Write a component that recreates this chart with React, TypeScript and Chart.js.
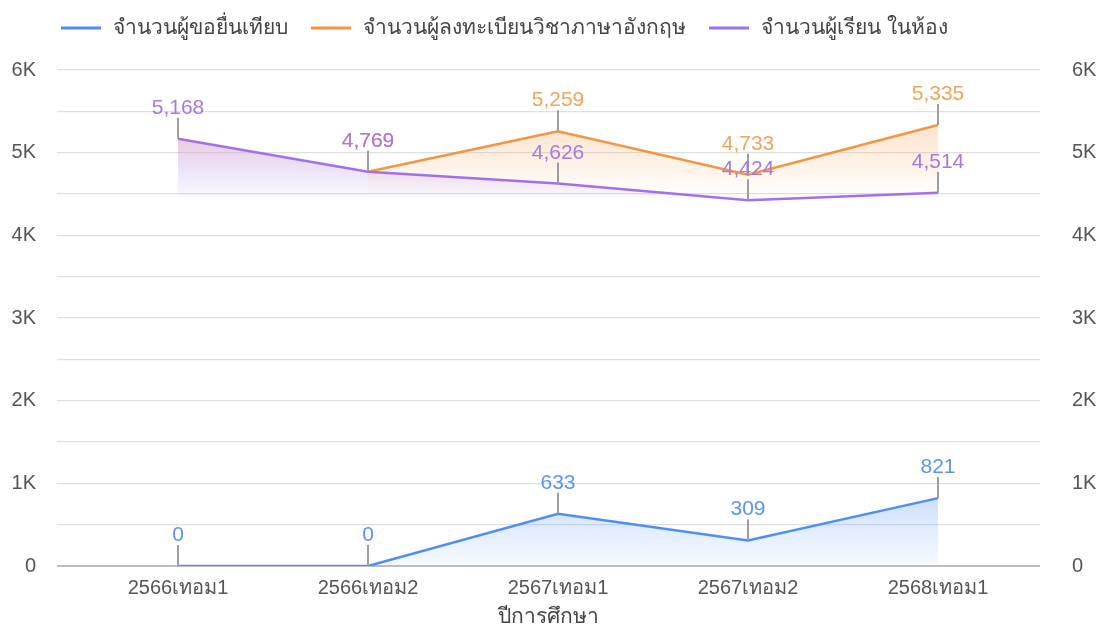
import React, { useEffect, useRef } from "react";
import { Chart, registerables } from "chart.js";

Chart.register(...registerables);

const categories = ["2566เทอม1", "2566เทอม2", "2567เทอม1", "2567เทอม2", "2568เทอม1"];
const seriesNames = ["จำนวนผู้ขอยื่นเทียบ", "จำนวนผู้ลงทะเบียนวิชาภาษาอังกฤษ", "จำนวนผู้เรียน ในห้อง"];
const applicants: (number | null)[] = [0, 0, 633, 309, 821];
const registered: (number | null)[] = [null, 4769, 5259, 4733, 5335];
const inClass: (number | null)[] = [5168, 4769, 4626, 4424, 4514];
const yTickLabels: Record<number, string> = { 0: "0", 1000: "1K", 2000: "2K", 3000: "3K", 4000: "4K", 5000: "5K", 6000: "6K" };
const xTitle = "ปีการศึกษา";

const FONT = "'Liberation Sans', Arial, 'Noto Sans', sans-serif";
const lineColors = ["#4d8ef7", "#f6953f", "#a270ee"];
const labelColors = ["#5a96f7", "#f5a35a", "#a878e6"];

const toPoints = (arr: (number | null)[]) => arr.map((v, i) => ({ x: i, y: v }));

function makeGradient(chart: any, topVal: number, bottomVal: number, stops: [number, string][]) {
  const { ctx, chartArea, scales } = chart;
  if (!chartArea) return "rgba(0,0,0,0)";
  const t = scales.y.getPixelForValue(topVal);
  const b = scales.y.getPixelForValue(bottomVal);
  const g = ctx.createLinearGradient(0, t, 0, b);
  stops.forEach(([o, c]) => g.addColorStop(o, c));
  return g;
}

const legendPlugin = {
  id: "customLegend",
  afterDraw(chart: any) {
    const ctx = chart.ctx;
    ctx.save();
    ctx.font = `21px ${FONT}`;
    ctx.textBaseline = "middle";
    ctx.textAlign = "left";
    let x = 61;
    const y = 28;
    seriesNames.forEach((name, i) => {
      ctx.strokeStyle = lineColors[i];
      ctx.lineWidth = 3;
      ctx.beginPath();
      ctx.moveTo(x, y);
      ctx.lineTo(x + 40, y);
      ctx.stroke();
      ctx.fillStyle = "#444444";
      ctx.fillText(name, x + 52, y);
      x = x + 52 + ctx.measureText(name).width + 23;
    });
    ctx.restore();
  },
};

const labelPlugin = {
  id: "pointLabels",
  afterDatasetsDraw(chart: any) {
    const ctx = chart.ctx;
    ctx.save();
    chart.data.datasets.forEach((ds: any, di: number) => {
      const meta = chart.getDatasetMeta(di);
      meta.data.forEach((pt: any, i: number) => {
        const v = ds.data[i].y;
        if (v === null || v === undefined) return;
        const x = pt.x;
        const y = pt.y;
        ctx.strokeStyle = "#9e9e9e";
        ctx.lineWidth = 2;
        ctx.beginPath();
        ctx.moveTo(x, y);
        ctx.lineTo(x, y - 21);
        ctx.stroke();
        ctx.font = `21px ${FONT}`;
        ctx.fillStyle = labelColors[di];
        ctx.textAlign = "center";
        ctx.textBaseline = "alphabetic";
        ctx.fillText(v.toLocaleString("en-US"), x, y - 25);
      });
    });
    ctx.restore();
  },
};

export default function App() {
  const ref = useRef<HTMLCanvasElement | null>(null);

  useEffect(() => {
    if (!ref.current) return;
    const yTicks = {
      stepSize: 500,
      color: "#555555",
      font: { size: 20, family: FONT },
      callback: (v: any) => (yTickLabels[v] !== undefined ? yTickLabels[v] : ""),
    };
    const chart = new Chart(ref.current, {
      type: "line",
      data: {
        datasets: [
          {
            label: seriesNames[0],
            data: toPoints(applicants),
            borderColor: lineColors[0],
            borderWidth: 2.5,
            pointRadius: 0,
            tension: 0,
            fill: "origin",
            backgroundColor: (c: any) =>
              makeGradient(c.chart, 900, 0, [
                [0, "rgba(77,142,247,0.3)"],
                [1, "rgba(77,142,247,0.04)"],
              ]),
            order: 3,
          },
          {
            label: seriesNames[1],
            data: toPoints(registered),
            borderColor: lineColors[1],
            borderWidth: 2.5,
            pointRadius: 0,
            tension: 0,
            fill: { value: 4450 },
            backgroundColor: (c: any) =>
              makeGradient(c.chart, 5400, 4450, [
                [0, "rgba(246,149,63,0.28)"],
                [1, "rgba(246,149,63,0.0)"],
              ]),
            order: 2,
          },
          {
            label: seriesNames[2],
            data: toPoints(inClass),
            borderColor: lineColors[2],
            borderWidth: 2.5,
            pointRadius: 0,
            tension: 0,
            fill: { value: 4450 },
            backgroundColor: (c: any) =>
              makeGradient(c.chart, 5200, 4450, [
                [0, "rgba(220,150,175,0.5)"],
                [0.55, "rgba(190,155,235,0.28)"],
                [1, "rgba(190,160,235,0.05)"],
              ]),
            order: 1,
          },
        ],
      },
      options: {
        responsive: false,
        animation: false,
        layout: { padding: { top: 70, left: 0, right: 0, bottom: 0 } },
        plugins: { legend: { display: false }, tooltip: { enabled: false } },
        scales: {
          x: {
            type: "linear",
            min: -0.637,
            max: 4.537,
            afterBuildTicks: (s: any) => {
              s.ticks = categories.map((_, i) => ({ value: i }));
            },
            afterFit: (s: any) => {
              s.height = 64;
            },
            grid: { display: false, drawTicks: false },
            border: { display: false },
            ticks: {
              padding: 10,
              color: "#555555",
              font: { size: 20, family: FONT },
              autoSkip: false,
              maxRotation: 0,
              callback: (v: any) => categories[v] ?? "",
            },
            title: {
              display: true,
              text: xTitle,
              color: "#444444",
              font: { size: 21, family: FONT },
              padding: { top: 0, bottom: 0 },
            },
          },
          y: {
            position: "left",
            min: 0,
            max: 6000,
            afterFit: (s: any) => {
              s.width = 57;
            },
            border: { display: false },
            grid: {
              drawTicks: false,
              color: (c: any) => (c.tick && c.tick.value === 0 ? "#bdbdbd" : "#e0e0e0"),
              lineWidth: (c: any) => (c.tick && c.tick.value === 0 ? 2 : 1.3),
            },
            ticks: { ...yTicks, padding: 21, autoSkip: false },
          },
          y2: {
            position: "right",
            min: 0,
            max: 6000,
            afterFit: (s: any) => {
              s.width = 57;
            },
            border: { display: false },
            grid: { display: false, drawTicks: false },
            ticks: { ...yTicks, padding: 32, autoSkip: false },
          },
        },
      },
      plugins: [legendPlugin, labelPlugin],
    } as any);
    return () => chart.destroy();
  }, []);

  return (
    <div style={{ position: "fixed", left: 0, top: 0, width: 1097, height: 630, background: "#ffffff" }}>
      <canvas ref={ref} width={1097} height={630} style={{ display: "block" }} />
    </div>
  );
}
